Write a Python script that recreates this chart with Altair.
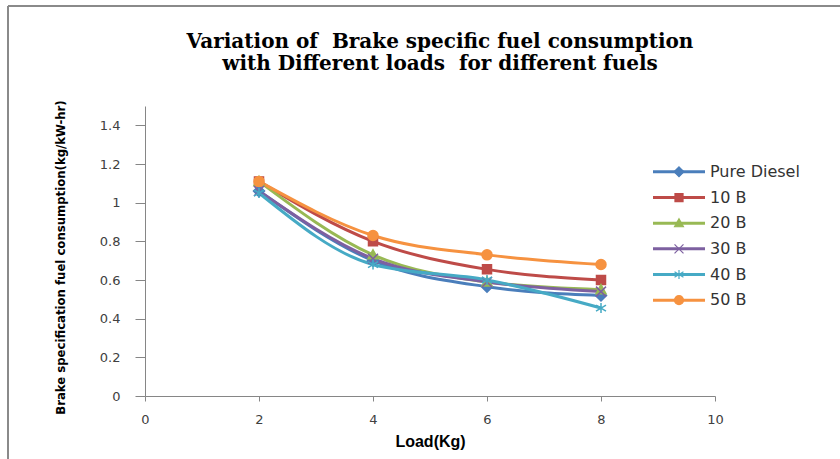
import altair as alt
import pandas as pd

loads = [2, 4, 6, 8]
series_names = ["Pure Diesel", "10 B", "20 B", "30 B", "40 B", "50 B"]
pure_diesel = [1.06, 0.70, 0.565, 0.52]
b10 = [1.11, 0.80, 0.655, 0.60]
b20 = [1.11, 0.73, 0.59, 0.55]
b30 = [1.06, 0.71, 0.59, 0.54]
b40 = [1.05, 0.68, 0.60, 0.455]
b50 = [1.11, 0.83, 0.73, 0.68]
colors = ["#4A7EBB", "#BE4B48", "#98B954", "#7D60A0", "#46AAC5", "#F69240"]
x_ticks = [0, 2, 4, 6, 8, 10]
y_ticks = [0, 0.2, 0.4, 0.6, 0.8, 1.0, 1.2, 1.4]

rows = []
for name, vals in zip(series_names, [pure_diesel, b10, b20, b30, b40, b50]):
    for l, v in zip(loads, vals):
        rows.append({"load": l, "bsfc": v, "series": name})
df = pd.DataFrame(rows)
legend_df = pd.DataFrame({"series": series_names})

# marker shapes
plot_paths = [
    "M0,-1.1L1.1,0L0,1.1L-1.1,0Z",
    "M-0.9,-0.9L0.9,-0.9L0.9,0.9L-0.9,0.9Z",
    "M0,-1L1,0.8L-1,0.8Z",
    "M-1,-1L1,1M-1,1L1,-1",
    "M0,-1L0,1M-1,-0.6L1,0.6M-1,0.6L1,-0.6",
    "M-1,0A1,1,0,1,0,1,0A1,1,0,1,0,-1,0Z",
]

color_scale = alt.Scale(domain=series_names, range=colors)
shape_scale = alt.Scale(domain=series_names, range=plot_paths)

x_enc = alt.X("load:Q", scale=alt.Scale(domain=[0, 10], nice=False),
              axis=alt.Axis(values=x_ticks, format="~g", title="Load(Kg)", tickSize=5,
                            labelPadding=12, titlePadding=7, labelFlush=False,
                            titleFont="Liberation Sans", titleFontSize=16,
                            titleFontWeight="bold"))
y_enc = alt.Y("bsfc:Q", scale=alt.Scale(domain=[0, 1.5], nice=False),
              axis=alt.Axis(values=y_ticks, format="~g", tickSize=10,
                            labelPadding=15, labelFlush=False,
                            title="Brake specification fuel consumption(kg/kW-hr)",
                            titleFont="DejaVu Sans Condensed, sans-serif",
                            titleFontSize=13, titleFontWeight="bold",
                            titleX=-78, titleY=151, titleAngle=-90,
                            titleAlign="center", titleBaseline="bottom"))

base = alt.Chart(df)

lines = base.mark_line(strokeWidth=3, interpolate="monotone").encode(
    x=x_enc, y=y_enc,
    color=alt.Color("series:N", scale=color_scale, legend=None),
    detail="series:N",
)

points = base.mark_point(filled=True, size=100, strokeWidth=1.5, opacity=1).encode(
    x="load:Q", y="bsfc:Q",
    color=alt.Color("series:N", scale=color_scale, legend=None),
    shape=alt.Shape("series:N", scale=shape_scale, legend=None),
    stroke=alt.Stroke("series:N", scale=color_scale, legend=None),
)

frame_top = base.mark_rule(color="#8A8A8A", strokeWidth=1.5).encode(
    x=alt.value(-137), x2=alt.value(700), y=alt.value(-100))
frame_left = base.mark_rule(color="#8A8A8A", strokeWidth=1.5).encode(
    x=alt.value(-137), y=alt.value(-100), y2=alt.value(360))

main = alt.layer(frame_top, frame_left, lines, points)

# legend built from the series list
leg_y = alt.Y("series:N", scale=alt.Scale(domain=series_names, range=[53, 207], padding=0),
              axis=None, sort=series_names)
leg_base = alt.Chart(legend_df)
leg_lines = leg_base.mark_rule(strokeWidth=3).encode(
    x=alt.value(508), x2=alt.value(560), y=leg_y,
    color=alt.Color("series:N", scale=color_scale, legend=None),
)
leg_pts = leg_base.mark_point(filled=True, size=80, strokeWidth=1.2, opacity=1).encode(
    x=alt.value(534), y=leg_y,
    color=alt.Color("series:N", scale=color_scale, legend=None),
    shape=alt.Shape("series:N", scale=shape_scale, legend=None),
    stroke=alt.Stroke("series:N", scale=color_scale, legend=None),
)
leg_text = leg_base.mark_text(align="left", baseline="middle", font="DejaVu Sans",
                              fontSize=16, color="#333333").encode(
    x=alt.value(565), y=leg_y, text="series:N",
)
legend = alt.layer(leg_lines, leg_pts, leg_text)

chart = alt.layer(main, legend).resolve_scale(
    y="independent"
).properties(
    width=570, height=290,
    title=alt.TitleParams(
        text=["Variation of\u00a0 Brake specific fuel consumption",
              "with Different loads\u00a0 for different fuels"],
        font="DejaVu Serif", fontSize=20, fontWeight="bold", color="black",
        anchor="middle", dx=10, offset=-69, lineHeight=22, frame="group",
    ),
    autosize=alt.AutoSizeParams(type="none"),
    padding={"left": 145, "top": 106, "right": 125, "bottom": 63},
).configure_view(stroke=None).configure_axis(
    grid=False, domainColor="#868686", tickColor="#868686",
    labelFont="DejaVu Sans", labelFontSize=13, labelColor="#404040",
    titleColor="black",
)

chart.save("out.html", embed_options={"renderer": "svg", "actions": False})
